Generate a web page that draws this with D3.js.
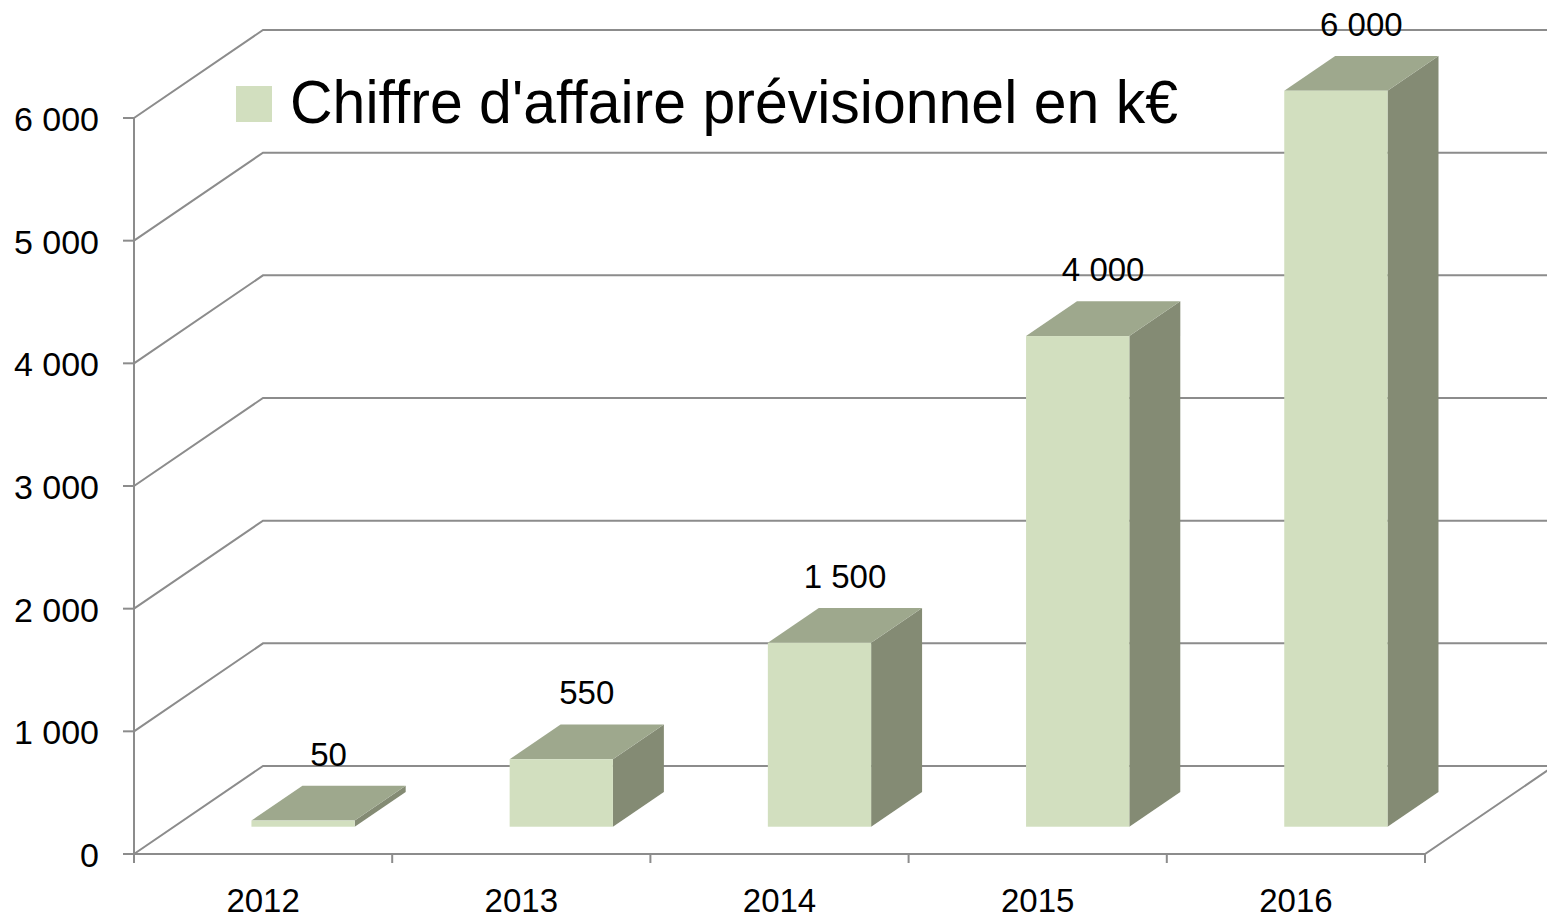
<!DOCTYPE html>
<html>
<head>
<meta charset="utf-8">
<script src="https://cdn.jsdelivr.net/npm/d3@7"></script>
<style>
    body { margin: 0; background: #fff; }
    svg { display: block; }
</style>
</head>
<body>
<svg id="drawing_region"></svg>
<script>
// chart data
const years = ['2012', '2013', '2014', '2015', '2016'];
const values = [50, 550, 1500, 4000, 6000];
const labels = ['50', '550', '1 500', '4 000', '6 000'];
const yTicks = [0, 1000, 2000, 3000, 4000, 5000, 6000];
const yTickLabels = ['0', '1 000', '2 000', '3 000', '4 000', '5 000', '6 000'];
const legendLabel = "Chiffre d'affaire prévisionnel en k€";

const config = {
    width: 1547,
    height: 920,
    left: 134, right: 1425,      // front plane x range
    bottom: 854, top: 118,       // front plane y range
    depthX: 129, depthY: -88,    // oblique offset of the back wall
    barZ0: 0.31, barZ1: 0.705,   // bar depth span
    barFrac: 0.4,
    gridColor: '#8c8c8c',
    font: '"Liberation Sans", Arial, sans-serif'
};

const svg = d3.select('#drawing_region')
    .attr('width', config.width)
    .attr('height', config.height);

const xscale = d3.scaleBand()
    .domain(years)
    .range([config.left, config.right]);

const yscale = d3.scaleLinear()
    .domain([0, 6000])
    .range([config.bottom, config.top]);

// project a point (front x, front y, depth z in 0..1) to screen
const px = (x, z) => x + z * config.depthX;
const py = (y, z) => y + z * config.depthY;

const grid = svg.append('g')
    .attr('stroke', config.gridColor)
    .attr('stroke-width', 2)
    .attr('fill', 'none');

// gridlines on side wall and back wall
grid.selectAll('path.grid')
    .data(yTicks)
    .enter()
    .append('path')
    .attr('class', 'grid')
    .attr('d', d => {
        const y = yscale(d);
        return `M${config.left},${y} L${px(config.left, 1)},${py(y, 1)} L${px(config.right, 1) + 10},${py(y, 1)}`;
    });

// floor front edge + right side
grid.append('path')
    .attr('d', `M${config.left},${config.bottom} L${config.right},${config.bottom} L${px(config.right, 1)},${py(config.bottom, 1)}`);

// vertical axis
grid.append('line')
    .attr('x1', config.left).attr('x2', config.left)
    .attr('y1', config.top).attr('y2', config.bottom + 9);

// y ticks
grid.selectAll('line.ytick')
    .data(yTicks)
    .enter()
    .append('line')
    .attr('class', 'ytick')
    .attr('x1', config.left - 11).attr('x2', config.left)
    .attr('y1', d => yscale(d)).attr('y2', d => yscale(d));

// x ticks at band edges
const xEdges = years.map(d => xscale(d)).concat([config.right]);
grid.selectAll('line.xtick')
    .data(xEdges)
    .enter()
    .append('line')
    .attr('class', 'xtick')
    .attr('x1', d => d).attr('x2', d => d)
    .attr('y1', config.bottom).attr('y2', config.bottom + 9);

// y tick labels
svg.append('g')
    .selectAll('text')
    .data(yTicks)
    .enter()
    .append('text')
    .attr('x', 99)
    .attr('y', d => yscale(d) + 13)
    .attr('text-anchor', 'end')
    .attr('font-family', config.font)
    .attr('font-size', 34)
    .attr('fill', '#000')
    .text((d, i) => yTickLabels[i]);

// x labels
svg.append('g')
    .selectAll('text')
    .data(years)
    .enter()
    .append('text')
    .attr('x', d => xscale(d) + xscale.bandwidth() / 2)
    .attr('y', 912)
    .attr('text-anchor', 'middle')
    .attr('font-family', config.font)
    .attr('font-size', 33)
    .attr('fill', '#000')
    .text(d => d);

// 3D bars
const bw = xscale.bandwidth() * config.barFrac;
const bars = svg.append('g')
    .selectAll('g')
    .data(years.map((y, i) => ({ year: y, value: values[i], label: labels[i] })))
    .enter()
    .append('g');

const geom = d => {
    const x0 = xscale(d.year) + (xscale.bandwidth() - bw) / 2;
    const x1 = x0 + bw;
    const yb = yscale(0);
    const yt = yscale(d.value);
    const z0 = config.barZ0, z1 = config.barZ1;
    return { x0, x1, yb, yt, z0, z1 };
};

// side face
bars.append('path')
    .attr('fill', '#848b74')
    .attr('d', d => {
        const g = geom(d);
        return `M${px(g.x1, g.z0)},${py(g.yb, g.z0)} L${px(g.x1, g.z1)},${py(g.yb, g.z1)} L${px(g.x1, g.z1)},${py(g.yt, g.z1)} L${px(g.x1, g.z0)},${py(g.yt, g.z0)}Z`;
    });

// top face
bars.append('path')
    .attr('fill', '#9ea88d')
    .attr('d', d => {
        const g = geom(d);
        return `M${px(g.x0, g.z0)},${py(g.yt, g.z0)} L${px(g.x0, g.z1)},${py(g.yt, g.z1)} L${px(g.x1, g.z1)},${py(g.yt, g.z1)} L${px(g.x1, g.z0)},${py(g.yt, g.z0)}Z`;
    });

// front face
bars.append('rect')
    .attr('fill', '#d2dfbf')
    .attr('x', d => px(geom(d).x0, config.barZ0))
    .attr('y', d => py(geom(d).yt, config.barZ0))
    .attr('width', bw)
    .attr('height', d => geom(d).yb - geom(d).yt);

// data labels
bars.append('text')
    .attr('x', d => {
        const g = geom(d);
        return (px(g.x0, g.z0) + px(g.x1, g.z1)) / 2;
    })
    .attr('y', d => py(geom(d).yt, config.barZ1) - 20)
    .attr('text-anchor', 'middle')
    .attr('font-family', config.font)
    .attr('font-size', 33)
    .attr('fill', '#000')
    .text(d => d.label);

// legend
const legend = svg.append('g');
legend.append('rect')
    .attr('x', 236).attr('y', 86)
    .attr('width', 36).attr('height', 36)
    .attr('fill', '#d2dfbf');
legend.append('text')
    .attr('x', 290).attr('y', 123)
    .attr('font-family', '"Liberation Sans Narrow", "Arial Narrow", sans-serif')
    .attr('font-size', 62)
    .attr('textLength', 888)
    .attr('lengthAdjust', 'spacingAndGlyphs')
    .attr('fill', '#000')
    .text(legendLabel);
</script>
</body>
</html>
